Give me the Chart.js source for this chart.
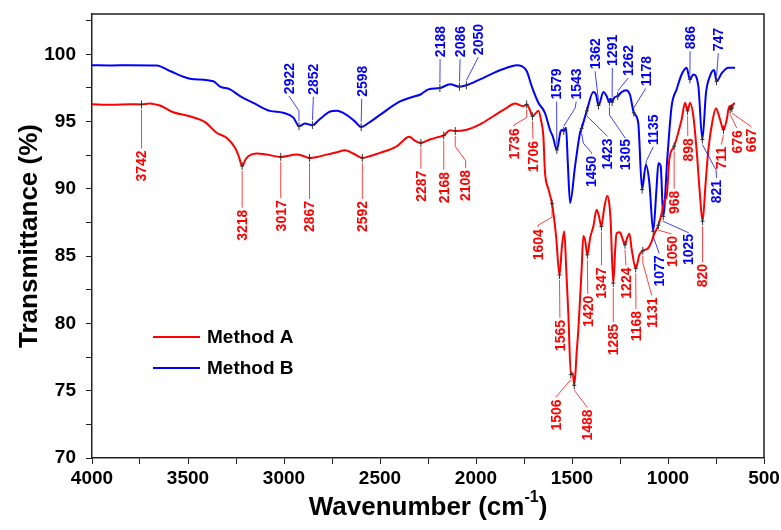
<!DOCTYPE html>
<html>
<head>
<meta charset="utf-8">
<script src="https://cdn.jsdelivr.net/npm/chart.js@4.4.1/dist/chart.umd.min.js"></script>
<style>
    html, body { margin: 0; padding: 0; background: #ffffff; }
    #wrap { width: 781px; height: 530px; }
</style>
</head>
<body>
<div id="wrap"><canvas id="ftir" width="781" height="530"></canvas></div>
<script>
const FONT = '"Liberation Sans", Arial, Helvetica, sans-serif';

const seriesNames = ['Method A', 'Method B'];
const seriesColors = ['#ff0000', '#0000ff'];

const xTickLabels = [4000, 3500, 3000, 2500, 2000, 1500, 1000, 500];
const yTickLabels = [70, 75, 80, 85, 90, 95, 100];

// Method A (red)
const waveA = [4000, 3900, 3800, 3742, 3700, 3660, 3646, 3577, 3490, 3411, 3351, 3299, 3255, 3235, 3218, 3200,
    3186, 3142, 3090, 3017, 2934, 2900, 2867, 2820, 2778, 2720, 2682, 2639, 2592, 2550, 2500, 2413, 2347, 2320,
    2287, 2240, 2200, 2168, 2135, 2108, 2049, 1979, 1910, 1840, 1797, 1754, 1736, 1720, 1706, 1690, 1675, 1660,
    1649, 1641, 1623, 1604, 1583, 1565, 1552, 1540, 1530, 1519, 1506, 1496, 1488, 1475, 1467, 1450, 1441, 1432,
    1420, 1405, 1389, 1372, 1360, 1347, 1332, 1316, 1305, 1299, 1285, 1275, 1268, 1250, 1237, 1224, 1212, 1201,
    1189, 1168, 1149, 1131, 1103, 1085, 1073, 1050, 1033, 1016, 1007, 993, 968, 952, 929, 911, 898, 885, 868,
    851, 833, 820, 804, 790, 767, 750, 729, 711, 694, 681, 676, 672, 667, 660, 651];
const transA = [96.3, 96.25, 96.3, 96.28, 96.35, 96.25, 96.2, 95.7, 95.4, 94.96, 94.17, 93.8, 93.05, 92.4, 91.7, 92.2,
    92.43, 92.63, 92.55, 92.38, 92.55, 92.45, 92.3, 92.4, 92.55, 92.75, 92.87, 92.63, 92.3, 92.45, 92.68, 93.17, 93.87, 93.6,
    93.42, 93.67, 93.85, 93.97, 94.36, 94.3, 94.4, 94.8, 95.4, 96.03, 96.35, 96.15, 96.28, 95.9, 95.4, 95.6, 95.8, 95.0,
    93.9, 91.3, 90.0, 88.9, 86.5, 83.6, 85.8, 86.85, 84.0, 80.7, 76.2, 76.3, 75.4, 78.0, 79.5, 84.0, 86.5, 86.2,
    85.1, 86.4, 87.2, 88.46, 88.0, 87.2, 88.6, 89.5, 88.8, 87.7, 83.0, 85.5, 86.7, 86.77, 86.3, 85.85, 86.4, 86.67,
    85.5, 84.1, 85.1, 85.4, 85.6, 86.1, 86.6, 87.3, 88.2, 89.2, 89.45, 92.2, 93.17, 93.9, 95.16, 96.4, 95.8, 96.4, 95.4,
    92.9, 89.45, 87.6, 90.45, 92.9, 95.16, 96.0, 95.16, 94.4, 95.16, 96.15, 95.9, 96.2, 96.0, 96.3, 96.35];

// Method B (blue)
const waveB = [4000, 3900, 3800, 3663, 3594, 3490, 3368, 3333, 3281, 3229, 3160, 3073, 3005, 2951, 2922, 2891,
    2852, 2820, 2795, 2760, 2726, 2674, 2630, 2598, 2560, 2500, 2396, 2328, 2292, 2248, 2188, 2135, 2086, 2050,
    1979, 1910, 1840, 1788, 1762, 1736, 1710, 1675, 1641, 1615, 1600, 1579, 1559, 1549, 1543, 1531, 1522, 1510,
    1484, 1458, 1450, 1423, 1389, 1375, 1362, 1336, 1320, 1305, 1298, 1291, 1281, 1262, 1241, 1219, 1198, 1178,
    1155, 1135, 1115, 1097, 1077, 1060, 1050, 1038, 1025, 1003, 981, 955, 929, 903, 886, 868, 842, 821, 802, 781,
    760, 747, 720, 686, 651];
const transB = [99.2, 99.18, 99.2, 99.18, 98.76, 98.19, 98.0, 97.6, 97.4, 96.9, 96.4, 95.8, 95.66, 95.3, 94.66, 94.86,
    94.74, 95.1, 95.4, 95.75, 95.8, 95.5, 95.0, 94.6, 94.9, 95.5, 96.5, 96.85, 97.0, 97.4, 97.5, 97.77, 97.6, 97.7,
    98.14, 98.6, 99.0, 99.2, 99.13, 98.76, 97.64, 96.4, 95.66, 94.4, 93.9, 92.9, 94.3, 94.4, 94.3, 94.54, 92.0, 88.96,
    91.7, 94.17, 94.5, 95.8, 97.2, 97.0, 96.2, 97.2, 96.9, 96.45, 96.7, 96.45, 96.77, 96.9, 97.2, 97.34, 97.0, 95.66,
    94.9, 89.95, 91.8, 90.45, 86.85, 90.0, 91.9, 91.7, 87.96, 92.4, 96.15, 97.4, 98.5, 99.0, 98.14, 98.5, 97.64, 93.67, 97.15, 98.4,
    98.83, 98.0, 98.6, 99.0, 99.0];

// peak labels: [peak wavenumber, label centre wavenumber, label centre %T, leader bends]
const peaksA = [
    [3742, 3742, 91.7, []],
    [3218, 3218, 87.3, []],
    [3017, 3017, 88.0, []],
    [2867, 2867, 87.95, []],
    [2592, 2592, 87.95, []],
    [2287, 2287, 90.2, []],
    [2168, 2168, 90.1, []],
    [2108, 2054, 90.25, [[2108, 93.15], [2054, 92.1]]],
    [1736, 1802, 93.35, [[1736, 95.3], [1802, 94.75]]],
    [1706, 1703, 92.4, []],
    [1604, 1677, 85.85, [[1604, 87.9], [1677, 87.3]]],
    [1565, 1563, 79.1, []],
    [1506, 1585, 73.2, []],
    [1488, 1420, 72.45, []],
    [1420, 1418, 80.9, []],
    [1347, 1346, 83.0, []],
    [1285, 1285, 78.8, []],
    [1224, 1219, 83.0, []],
    [1168, 1167, 79.8, []],
    [1131, 1085, 80.8, [[1131, 84.5], [1085, 82.1]]],
    [1050, 981, 85.35, []],
    [968, 968, 89.0, []],
    [898, 897, 92.9, []],
    [820, 820, 83.55, []],
    [711, 722, 92.3, []],
    [676, 642, 93.5, []],
    [667, 565, 93.6, []],
];
const peaksB = [
    [2922, 2974, 98.2, [[2922, 95.8], [2974, 96.9]]],
    [2852, 2847, 98.15, []],
    [2598, 2595, 98.0, []],
    [2188, 2187, 100.95, []],
    [2086, 2083, 100.95, []],
    [2050, 1988, 101.1, []],
    [1579, 1580, 97.8, []],
    [1543, 1478, 97.8, [[1484, 96.0]]],
    [1450, 1399, 91.3, [[1441, 93.4], [1399, 92.7]]],
    [1423, 1315, 92.6, []],
    [1362, 1380, 100.05, []],
    [1291, 1290, 100.3, []],
    [1305, 1224, 92.55, [[1305, 95.5], [1224, 93.8]]],
    [1262, 1207, 99.55, []],
    [1178, 1116, 98.75, []],
    [1135, 1077, 94.4, [[1112, 92.1]]],
    [1077, 1046, 83.9, []],
    [1025, 894, 85.5, [[894, 86.75]]],
    [886, 885, 101.25, []],
    [821, 747, 89.8, [[750, 91.4]]],
    [747, 738, 101.1, []],
];

function toPoints(waves, values) {
    return waves.map((w, i) => ({ x: w, y: values[i] }));
}

// value of a series at wavenumber w (all labelled peaks are data points)
function curveAt(waves, values, w) {
    for (let i = 0; i < waves.length - 1; i++) {
        if (w <= waves[i] && w >= waves[i + 1]) {
            const t = (waves[i] - w) / (waves[i] - waves[i + 1]);
            return values[i] + t * (values[i + 1] - values[i]);
        }
    }
    return values[values.length - 1];
}

function drawPeaks(ctx, x, y, peaks, waves, values, color) {
    ctx.font = `bold 14px ${FONT}`;
    peaks.forEach(([peak, lw, lv, bends]) => {
        const text = String(peak);
        const px = x.getPixelForValue(peak);
        const py = y.getPixelForValue(curveAt(waves, values, peak));
        const lx = x.getPixelForValue(lw);
        const ly = y.getPixelForValue(lv);
        const half = ctx.measureText(text).width / 2;
        const below = ly > py;

        const path = [[px, below ? py + 5 : py - 5]];
        bends.forEach(([bw, bv]) => path.push([x.getPixelForValue(bw), y.getPixelForValue(bv)]));
        path.push([lx, below ? ly - half - 2 : ly + half + 2]);

        ctx.strokeStyle = color;
        ctx.globalAlpha = 0.75;
        ctx.lineWidth = 1;
        ctx.beginPath();
        path.forEach(([qx, qy], i) => (i ? ctx.lineTo(qx, qy) : ctx.moveTo(qx, qy)));
        ctx.stroke();
        ctx.globalAlpha = 1;

        // peak marker
        ctx.strokeStyle = '#333333';
        ctx.beginPath();
        ctx.moveTo(px, py - 4);
        ctx.lineTo(px, py + 4);
        ctx.moveTo(px - 2, py);
        ctx.lineTo(px + 2, py);
        ctx.stroke();

        ctx.save();
        ctx.translate(lx, ly);
        ctx.rotate(-Math.PI / 2);
        ctx.fillStyle = color;
        ctx.textAlign = 'center';
        ctx.textBaseline = 'middle';
        ctx.fillText(text, 0, 1);
        ctx.restore();
    });
}

const extrasPlugin = {
    id: 'ftirExtras',
    afterDatasetsDraw(chart) {
        const { ctx, chartArea: area } = chart;
        const { x, y } = chart.scales;

        ctx.save();
        ctx.strokeStyle = '#222222';
        ctx.lineWidth = 1.5;
        ctx.beginPath();
        ctx.moveTo(area.left, area.top);
        ctx.lineTo(area.right, area.top);
        ctx.lineTo(area.right, area.bottom);
        ctx.stroke();

        drawPeaks(ctx, x, y, peaksA, waveA, transA, seriesColors[0]);
        drawPeaks(ctx, x, y, peaksB, waveB, transB, seriesColors[1]);

        // legend
        ctx.font = `bold 19px ${FONT}`;
        ctx.textBaseline = 'middle';
        ctx.textAlign = 'left';
        seriesNames.forEach((name, i) => {
            const ly = 337 + i * 31;
            ctx.strokeStyle = seriesColors[i];
            ctx.lineWidth = 2;
            ctx.beginPath();
            ctx.moveTo(153, ly);
            ctx.lineTo(200, ly);
            ctx.stroke();
            ctx.fillStyle = '#000000';
            ctx.fillText(name, 207, ly + 1);
        });

        // axis titles
        ctx.fillStyle = '#000000';
        ctx.font = `bold 26px ${FONT}`;
        ctx.save();
        ctx.translate(30, (area.top + area.bottom) / 2);
        ctx.rotate(-Math.PI / 2);
        ctx.textAlign = 'center';
        ctx.fillText('Transmittance (%)', 0, 0);
        ctx.restore();

        const main = 'Wavenumber (cm';
        const sup = '-1';
        const close = ')';
        ctx.font = `bold 26px ${FONT}`;
        const wMain = ctx.measureText(main).width;
        const wClose = ctx.measureText(close).width;
        ctx.font = `bold 16px ${FONT}`;
        const wSup = ctx.measureText(sup).width;
        let tx = (area.left + area.right) / 2 - (wMain + wSup + wClose) / 2;
        const ty = 508;
        ctx.textAlign = 'left';
        ctx.font = `bold 26px ${FONT}`;
        ctx.fillText(main, tx, ty);
        tx += wMain;
        ctx.font = `bold 16px ${FONT}`;
        ctx.fillText(sup, tx, ty - 10);
        tx += wSup;
        ctx.font = `bold 26px ${FONT}`;
        ctx.fillText(close, tx, ty);
        ctx.restore();
    },
};

new Chart(document.getElementById('ftir'), {
    type: 'line',
    data: {
        datasets: [
            {
                label: seriesNames[0],
                data: toPoints(waveA, transA),
                borderColor: seriesColors[0],
                borderWidth: 2,
                pointRadius: 0,
                cubicInterpolationMode: 'monotone',
            },
            {
                label: seriesNames[1],
                data: toPoints(waveB, transB),
                borderColor: seriesColors[1],
                borderWidth: 2,
                pointRadius: 0,
                cubicInterpolationMode: 'monotone',
            },
        ],
    },
    options: {
        responsive: false,
        animation: false,
        layout: {
            padding: { top: 14, right: 17, left: 0, bottom: 0 },
        },
        plugins: {
            legend: { display: false },
            tooltip: { enabled: false },
        },
        scales: {
            x: {
                type: 'linear',
                reverse: true,
                min: 500,
                max: 4000,
                afterFit(scale) {
                    scale.height = 72;
                    scale.paddingLeft = 0;
                    scale.paddingRight = 0;
                },
                ticks: {
                    stepSize: 250,
                    autoSkip: false,
                    maxRotation: 0,
                    padding: 3,
                    color: '#000000',
                    font: { family: FONT, size: 19, weight: 'bold' },
                    callback: (v) => (xTickLabels.includes(v) ? String(v) : ''),
                },
                grid: {
                    drawOnChartArea: false,
                    drawTicks: true,
                    tickLength: 6,
                    color: '#222222',
                },
                border: { display: true, color: '#222222', width: 1.5 },
            },
            y: {
                min: 70,
                max: 103,
                afterFit(scale) {
                    scale.width = 92;
                    scale.paddingTop = 0;
                    scale.paddingBottom = 0;
                },
                ticks: {
                    stepSize: 2.5,
                    includeBounds: false,
                    autoSkip: false,
                    padding: 10,
                    color: '#000000',
                    font: { family: FONT, size: 19, weight: 'bold' },
                    callback: (v) => (yTickLabels.includes(v) ? String(v) : ''),
                },
                grid: {
                    drawOnChartArea: false,
                    drawTicks: true,
                    tickLength: 6,
                    color: '#222222',
                },
                border: { display: true, color: '#222222', width: 1.5 },
            },
        },
    },
    plugins: [extrasPlugin],
});
</script>
</body>
</html>
